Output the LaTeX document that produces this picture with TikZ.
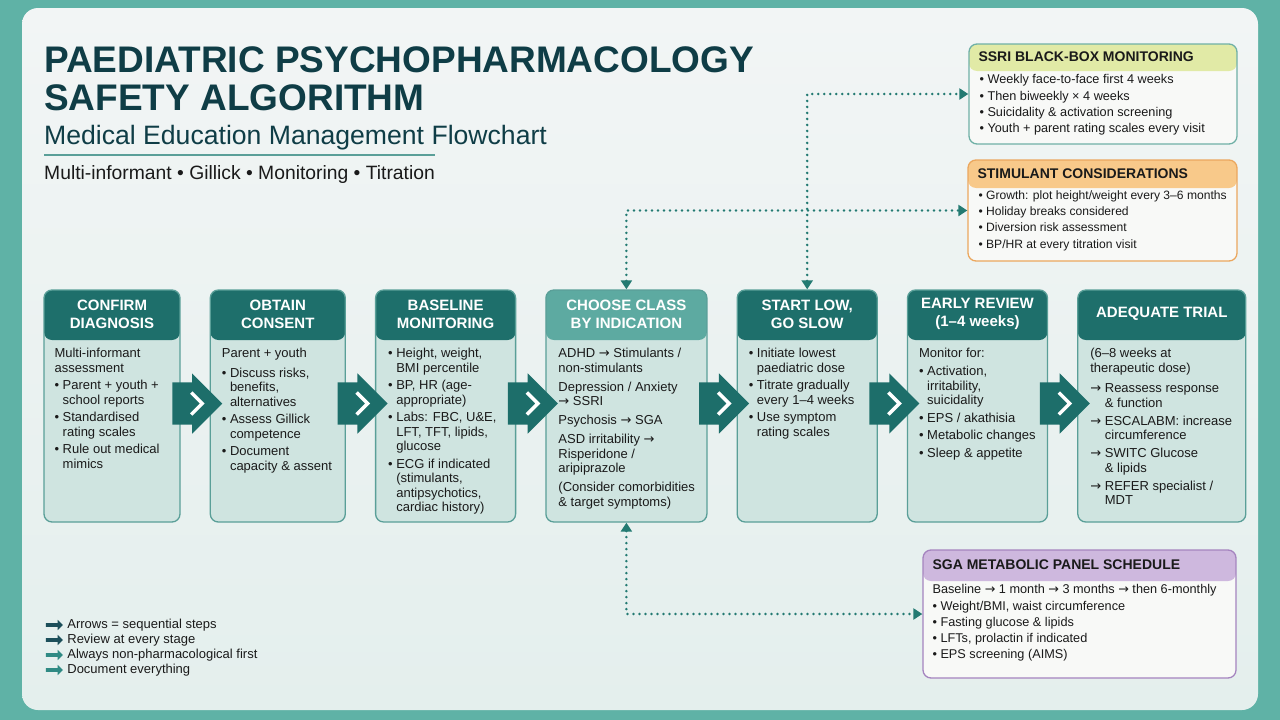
\documentclass[tikz,border=0pt]{standalone}
\usepackage{fontspec}
\setmainfont{Liberation Sans}
\newfontfamily\arrfont{DejaVu Sans}
\usetikzlibrary{arrows.meta, positioning, shapes.arrows, calc}
\definecolor{frame}{HTML}{5FB2A6}
\definecolor{panelA}{HTML}{F2F5F5}
\definecolor{panelB}{HTML}{E4EFED}
\definecolor{hdteal}{HTML}{1E6F6B}
\definecolor{hdlight}{HTML}{5DAAA1}
\definecolor{stagefill}{HTML}{CFE4E0}
\definecolor{stageline}{HTML}{5A9F98}
\definecolor{chev}{HTML}{1D6E6A}
\definecolor{titleink}{HTML}{0F3D46}
\definecolor{ink}{HTML}{1A1A1A}
\definecolor{dotcol}{HTML}{237A72}
\definecolor{ssrihead}{HTML}{E1EAA6}
\definecolor{ssriline}{HTML}{6FB0A6}
\definecolor{stimhead}{HTML}{F8C98A}
\definecolor{stimline}{HTML}{EBA75E}
\definecolor{sgahead}{HTML}{CEB8DE}
\definecolor{sgaline}{HTML}{A584BF}
\definecolor{notefill}{HTML}{F8F9F7}
\definecolor{legdark}{HTML}{1C4F5A}
\definecolor{legmid}{HTML}{2F8A84}
\newcommand{\bul}{\textbullet\ }
\newcommand{\bgap}{\hphantom{\textbullet\ }}
\newcommand{\ra}{{\arrfont →}}
\newcommand{\agap}{\hphantom{\ra\ }}

\begin{document}
\begin{tikzpicture}[x=1pt, y=-1pt,
        node distance=29pt,
        stage/.style={rectangle, draw=stageline, line width=1.3pt, rounded corners=8pt, fill=stagefill, minimum height=232pt, inner sep=0pt,
            path picture={\fill[#1] (path picture bounding box.north west) rectangle ([yshift=-50pt]path picture bounding box.north east);}},
        stage/.default=hdteal,
        stagetitle/.style={font={\fontsize{15}{18}\selectfont\bfseries}, text=white, align=center, inner sep=0pt},
        stagetext/.style={font={\fontsize{13}{14.5}\selectfont}, text=ink, align=left, anchor=north west, inner sep=0pt},
        chevron/.style={single arrow, fill=chev, text height=21pt, text depth=21pt, minimum height=50pt, single arrow head extend=9pt, inner sep=0pt,
            path picture={\draw[white, line width=3.5pt] ([xshift=-6pt, yshift=11pt]path picture bounding box.center) -- ++(11pt,-11pt) -- ++(-11pt,-11pt);}},
        note/.style n args={4}{rectangle, draw=#1, line width=1.3pt, rounded corners=8pt, fill=notefill, inner sep=0pt,
            path picture={\fill[#2] (path picture bounding box.north west) rectangle ([yshift=-#3]path picture bounding box.north east);}},
        notehead/.style={font={\fontsize{14}{16}\selectfont\bfseries}, text=ink, anchor=west, inner sep=0pt},
        notetext/.style={font={\fontsize{12.7}{16.3}\selectfont}, text=ink, align=left, anchor=north west, inner sep=0pt},
        dotlink/.style={{Triangle[length=9pt, width=11pt]}-{Triangle[length=9pt, width=11pt]}, draw=dotcol, line width=2.8pt, dash pattern=on 0pt off 6pt, line cap=round},
        legarrow/.style={single arrow, fill=#1, text height=1.6pt, text depth=1.6pt, minimum height=17pt, single arrow head extend=3.4pt, inner sep=0pt},
        legtext/.style={font={\fontsize{13}{15}\selectfont}, text=ink, inner sep=0pt, anchor=west}
    ]
    \useasboundingbox (0,0) rectangle (1280,720);
    % frame and panel
    \fill[frame] (0,0) rectangle (1280,720);
    \path[top color=panelA, bottom color=panelB, rounded corners=16pt] (22,8) rectangle (1258,710);

    % heading
    \node[anchor=north west, inner sep=0pt, align=left, text=titleink, font={\fontsize{37}{38}\selectfont\bfseries}] (title) at (44,46) {PAEDIATRIC PSYCHOPHARMACOLOGY\\SAFETY ALGORITHM};
    \node[anchor=north west, inner sep=0pt, text=titleink, font={\fontsize{26.6}{30}\selectfont}] (subtitle) at (44,125) {Medical Education Management Flowchart};
    \draw[stageline, line width=1.2pt] (44,155) -- (435,155);
    \node[anchor=north west, inner sep=0pt, text=ink, font={\fontsize{19.3}{22}\selectfont}] (tagline) at (44,165) {Multi-informant \textbullet{} Gillick \textbullet{} Monitoring \textbullet{} Titration};

    % stages
    \node[stage, minimum width=136pt] (b1) at (112,406) {};
    \node[stage, minimum width=135pt, right=of b1] (b2) {};
    \node[stage, minimum width=140pt, right=of b2] (b3) {};
    \node[stage=hdlight, minimum width=161pt, right=of b3] (b4) {};
    \node[stage, minimum width=140pt, right=of b4] (b5) {};
    \node[stage, minimum width=140pt, right=of b5] (b6) {};
    \node[stage, minimum width=168pt, right=of b6] (b7) {};

    \node[stagetitle] (t1) at ([yshift=-25pt]b1.north) {CONFIRM\\DIAGNOSIS};
    \node[stagetitle] (t2) at ([yshift=-25pt]b2.north) {OBTAIN\\CONSENT};
    \node[stagetitle] (t3) at ([yshift=-25pt]b3.north) {BASELINE\\MONITORING};
    \node[stagetitle] (t4) at ([yshift=-25pt]b4.north) {CHOOSE CLASS\\BY INDICATION};
    \node[stagetitle] (t5) at ([yshift=-25pt]b5.north) {START LOW,\\GO SLOW};
    \node[stagetitle] (t6) at ([yshift=-25pt]b6.north) {EARLY REVIEW\\(1–4 weeks)};
    \node[stagetitle] (t7) at ([yshift=-24pt]b7.north) {ADEQUATE TRIAL};

    \node[stagetext] (x1) at ([xshift=11pt, yshift=-59pt]b1.north west) {Multi-informant\\assessment\\[3pt]
        \bul Parent + youth +\\\bgap school reports\\[3pt]
        \bul Standardised\\\bgap rating scales\\[3pt]
        \bul Rule out medical\\\bgap mimics};
    \node[stagetext] (x2) at ([xshift=12pt, yshift=-59pt]b2.north west) {Parent + youth\\[5pt]
        \bul Discuss risks,\\\bgap benefits,\\\bgap alternatives\\[3pt]
        \bul Assess Gillick\\\bgap competence\\[3pt]
        \bul Document\\\bgap capacity \& assent};
    \node[stagetext] (x3) at ([xshift=13pt, yshift=-59pt]b3.north west) {\bul Height, weight,\\\bgap BMI percentile\\[3pt]
        \bul BP, HR (age-\\\bgap appropriate)\\[3pt]
        \bul Labs: FBC, U\&E,\\\bgap LFT, TFT, lipids,\\\bgap glucose\\[3pt]
        \bul ECG if indicated\\\bgap (stimulants,\\\bgap antipsychotics,\\\bgap cardiac history)};
    \node[stagetext] (x4) at ([xshift=13pt, yshift=-59pt]b4.north west) {ADHD \ra\ Stimulants /\\non-stimulants\\[4.5pt]
        Depression / Anxiety\\\ra\ SSRI\\[4.5pt]
        Psychosis \ra\ SGA\\[4.5pt]
        ASD irritability \ra\\Risperidone /\\aripiprazole\\[4.5pt]
        (Consider comorbidities\\\& target symptoms)};
    \node[stagetext] (x5) at ([xshift=12pt, yshift=-59pt]b5.north west) {\bul Initiate lowest\\\bgap paediatric dose\\[3pt]
        \bul Titrate gradually\\\bgap every 1–4 weeks\\[3pt]
        \bul Use symptom\\\bgap rating scales};
    \node[stagetext] (x6) at ([xshift=12pt, yshift=-59pt]b6.north west) {Monitor for:\\[3.5pt]
        \bul Activation,\\\bgap irritability,\\\bgap suicidality\\[3pt]
        \bul EPS / akathisia\\[3pt]
        \bul Metabolic changes\\[3pt]
        \bul Sleep \& appetite};
    \node[stagetext] (x7) at ([xshift=13pt, yshift=-59pt]b7.north west) {(6–8 weeks at\\therapeutic dose)\\[6pt]
        \ra\ Reassess response\\\agap\& function\\[3.5pt]
        \ra\ ESCALABM: increase\\\agap circumference\\[3.5pt]
        \ra\ SWITC Glucose\\\agap\& lipids\\[3.5pt]
        \ra\ REFER specialist /\\\agap MDT};

    % step arrows
    \foreach \a/\b in {b1/b2, b2/b3, b3/b4, b4/b5, b5/b6, b6/b7}
        \node[chevron] (ch-\a) at ($(\a.east)!0.5!(\b.west)+(-8.5,-2.5)$) {};

    % side panels
    \node[note={ssriline}{ssrihead}{27pt}{}, minimum width=268pt, minimum height=100pt] (ssri) at (1103,94) {};
    \node[notehead] (ssri-h) at ([xshift=10pt, yshift=-13.5pt]ssri.north west) {SSRI BLACK-BOX MONITORING};
    \node[notetext] (ssri-t) at ([xshift=11pt, yshift=-31pt]ssri.north west) {\bul Weekly face-to-face first 4 weeks\\\bul Then biweekly × 4 weeks\\\bul Suicidality \& activation screening\\\bul Youth + parent rating scales every visit};

    \node[note={stimline}{stimhead}{28pt}{}, minimum width=269pt, minimum height=101pt] (stim) at (1102.5,210.5) {};
    \node[notehead] (stim-h) at ([xshift=10pt, yshift=-14pt]stim.north west) {STIMULANT CONSIDERATIONS};
    \node[notetext, font={\fontsize{12.1}{16.3}\selectfont}] (stim-t) at ([xshift=11pt, yshift=-31pt]stim.north west) {\bul Growth: plot height/weight every 3–6 months\\\bul Holiday breaks considered\\\bul Diversion risk assessment\\\bul BP/HR at every titration visit};

    \node[note={sgaline}{sgahead}{31pt}{}, minimum width=313pt, minimum height=128pt] (sga) at (1079.5,614) {};
    \node[notehead] (sga-h) at ([xshift=10pt, yshift=-15.5pt]sga.north west) {SGA METABOLIC PANEL SCHEDULE};
    \node[notetext] (sga-t) at ([xshift=10pt, yshift=-35pt]sga.north west) {Baseline \ra\ 1 month \ra\ 3 months \ra\ then 6-monthly\\\bul Weight/BMI, waist circumference\\\bul Fasting glucose \& lipids\\\bul LFTs, prolactin if indicated\\\bul EPS screening (AIMS)};

    % monitoring links
    \draw[dotlink] (b4.north) |- (stim.west);
    \draw[dotlink] (b5.north) |- (ssri.west);
    \draw[dotlink] (b4.south) |- (sga.west);

    % legend
    \node[legarrow=legdark] (la1) at (53.5,625) {};
    \node[legarrow=legdark] (la2) at (53.5,640) {};
    \node[legarrow=legmid] (la3) at (53.5,655) {};
    \node[legarrow=legmid] (la4) at (53.5,670) {};
    \node[legtext, right=4pt of la1] (lt1) {Arrows = sequential steps};
    \node[legtext, right=4pt of la2] (lt2) {Review at every stage};
    \node[legtext, right=4pt of la3] (lt3) {Always non-pharmacological first};
    \node[legtext, right=4pt of la4] (lt4) {Document everything};
\end{tikzpicture}
\end{document}
